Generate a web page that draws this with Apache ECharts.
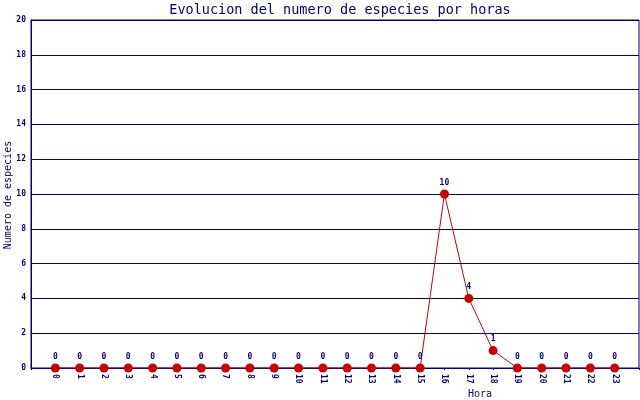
<!DOCTYPE html>
<html>
<head>
<meta charset="utf-8">
<script src="https://cdn.jsdelivr.net/npm/echarts@6/dist/echarts.min.js"></script>
<style>
  html, body { margin: 0; padding: 0; background: #fff; }
  #chart { width: 640px; height: 400px; }
</style>
</head>
<body>
<div id="chart"></div>
<script>
var hours = [0, 1, 2, 3, 4, 5, 6, 7, 8, 9, 10, 11, 12, 13, 14, 15, 16, 17, 18, 19, 20, 21, 22, 23];
var especies = [0, 0, 0, 0, 0, 0, 0, 0, 0, 0, 0, 0, 0, 0, 0, 0, 10, 4, 1, 0, 0, 0, 0, 0];
var yTicks = [0, 2, 4, 6, 8, 10, 12, 14, 16, 18, 20];

var navy = '#000080';
var red = '#cc0000';
var mono = '"DejaVu Sans Mono", "Liberation Mono", monospace';

var points = hours.map(function (h, i) { return [h, especies[i]]; });

var myChart = echarts.init(document.getElementById('chart'));
var option = {
  animation: false,
  backgroundColor: '#fff',
  title: {
    text: 'Evolucion del numero de especies por horas',
    left: 335,
    top: -2,
    textAlign: 'center',
    textStyle: { color: navy, fontFamily: mono, fontSize: 13.5, fontWeight: 'normal' }
  },
  grid: {
    left: 31, right: 1, top: 20, bottom: 32,
    containLabel: false,
    outerBoundsMode: 'none',
    show: true, borderColor: navy, borderWidth: 1
  },
  xAxis: {
    type: 'value',
    min: -1,
    max: 24,
    interval: 1,
    splitLine: { show: false },
    axisLine: { onZero: false, lineStyle: { color: navy, width: 1 } },
    axisTick: { show: true, length: 2, lineStyle: { color: navy } },
    axisLabel: {
      rotate: -90,
      color: navy,
      fontFamily: mono,
      fontSize: 8,
      fontWeight: 'bold',
      margin: 6,
      formatter: function (v) { return hours.indexOf(v) >= 0 ? String(v) : ''; }
    }
  },
  yAxis: {
    type: 'value',
    min: yTicks[0],
    max: yTicks[yTicks.length - 1],
    interval: 2,
    axisLine: { show: true, onZero: false, lineStyle: { color: navy, width: 1 } },
    axisTick: { show: false },
    splitLine: { lineStyle: { color: navy, width: 1 } },
    axisLabel: { color: navy, fontFamily: mono, fontSize: 8, fontWeight: 'bold', margin: 5 }
  },
  graphic: [{
    type: 'text',
    x: 8,
    y: 195,
    rotation: Math.PI / 2,
    style: {
      text: 'Numero de especies', fill: navy, font: '10px ' + mono,
      align: 'center', verticalAlign: 'middle'
    }
  }, {
    type: 'text',
    left: 468,
    top: 389,
    style: { text: 'Hora', fill: navy, font: '10px ' + mono }
  }],
  series: [{
    type: 'line',
    data: points,
    symbol: 'circle',
    symbolSize: 9,
    itemStyle: { color: red },
    lineStyle: { color: red, width: 1 },
    label: {
      show: true,
      position: 'top',
      distance: 3,
      color: navy,
      fontFamily: mono,
      fontSize: 8,
      fontWeight: 'bold',
      formatter: function (p) { return p.value[1]; }
    }
  }]
};
myChart.setOption(option);
</script>
</body>
</html>
